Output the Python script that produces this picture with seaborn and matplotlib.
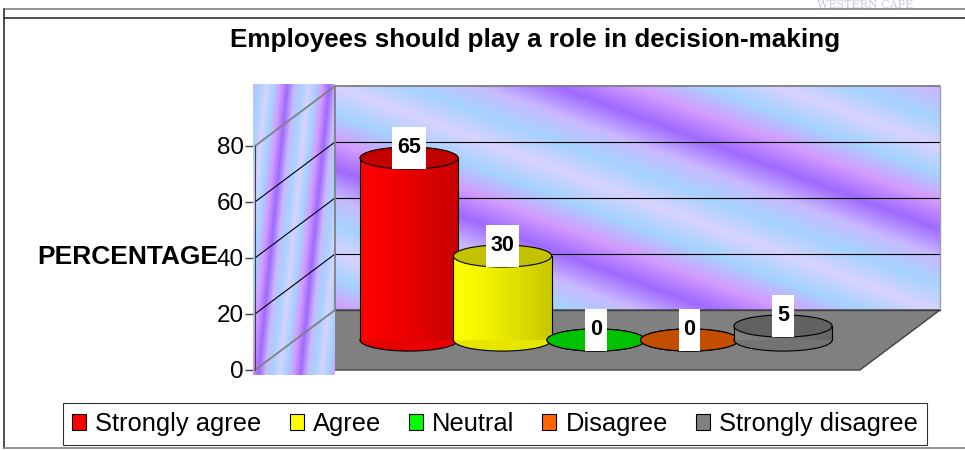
import numpy as np
import matplotlib
matplotlib.use("Agg")
import matplotlib.pyplot as plt
import matplotlib.transforms as mtransforms
from matplotlib.patches import Ellipse, Polygon, Patch
from matplotlib.lines import Line2D
from matplotlib.path import Path
from matplotlib.colors import LinearSegmentedColormap, to_rgb
import seaborn as sns

sns.set_style("white")
plt.rcParams["font.family"] = ["Liberation Sans", "DejaVu Sans"]
plt.rcParams["text.color"] = "black"
plt.rcParams["ytick.color"] = "black"

# ---- data ----
categories = ["Strongly agree", "Agree", "Neutral", "Disagree", "Strongly disagree"]
percentages = [65, 30, 0, 0, 5]
colors = ["#ff0000", "#ffff00", "#00ff00", "#ff6600", "#808080"]
yticks = [0, 20, 40, 60, 80]

title = "Employees should play a role in decision-making"
ylabel = "PERCENTAGE"

# ---- 3D box geometry (data units) ----
XL, XR = -1.22, 5.25      # front edge of the floor
DX, DY = 0.856, 21.4      # depth offset of the back wall
YTOP = 80
BAR_W = 1.05
CAP_H = 7.9               # height of the cylinder cap ellipses

fig = plt.figure(figsize=(9.65, 4.5), dpi=100)
ax = fig.add_axes([0.2622, 0.1667, 0.7140, 0.6467])

sns.barplot(x=categories, y=percentages, hue=categories, order=categories,
            palette=colors, width=BAR_W, saturation=1, errorbar=None,
            linewidth=0, legend=False, ax=ax)
bars = list(ax.patches)

# wall texture
wall_cmap = LinearSegmentedColormap.from_list(
    "wall", ["#a06aff", "#c9b9ff", "#a6d3ff", "#d8d2ff", "#a6d3ff", "#d49cff", "#a06aff"])

yy, xx = np.mgrid[0:223, 0:605]
back = ((yy - 0.37 * xx + 81) / 164.0) % 1
ax.imshow(back, cmap=wall_cmap, vmin=0, vmax=1, aspect="auto", interpolation="bilinear",
          extent=(XL + DX, XR + DX, DY, YTOP + DY), origin="upper", zorder=0.5)

yy, xx = np.mgrid[0:290, 0:82]
side = ((xx + 0.1 * yy + 8) / 42.0) % 1
ax.imshow(side, cmap=wall_cmap, vmin=0, vmax=1, aspect="auto", interpolation="bilinear",
          extent=(XL - 0.02, XL + DX, -1.8, 101.8), origin="upper", zorder=1.5,
          clip_on=False)

# floor
ax.add_patch(Polygon([(XL, 0), (XR, 0), (XR + DX, DY), (XL + DX, DY)], closed=True,
                     facecolor="#808080", edgecolor="#404040", lw=1, zorder=1))

# grid lines on the back wall and the side wall
for v in yticks:
    c = "#808080" if v in (0, YTOP) else "black"
    lw = 1.3 if v in (0, YTOP) else 0.8
    ax.plot([XL, XL + DX], [v, v + DY], color=c, lw=lw, zorder=2)
    if 0 < v < YTOP:
        ax.plot([XL + DX, XR + DX], [v + DY, v + DY], color="black", lw=0.8, zorder=0.8)
ax.plot([XL + DX, XR + DX], [YTOP + DY] * 2, color="#808080", lw=1.3, zorder=0.8)
ax.plot([XL + DX, XL + DX], [DY, YTOP + DY], color="#808080", lw=1.3, zorder=2)
ax.plot([XR + DX, XR + DX], [DY, YTOP + DY], color="#a0a0a0", lw=1.0, zorder=0.8)
ax.plot([XL + DX, XR + DX], [DY, DY], color="#404040", lw=1.0, zorder=1.2)


# cylinders: seaborn bars moved to mid depth, shaded, with elliptical caps
def label_box(x0, y0, width, height, mutation_size):
    px, py = 0.22 * mutation_size, 0.5 * mutation_size
    return Path([(x0 - px, y0 - py), (x0 + width + px, y0 - py),
                 (x0 + width + px, y0 + height + py), (x0 - px, y0 + height + py),
                 (x0 - px, y0 - py)], closed=True)


shift = mtransforms.Affine2D().translate(DX / 2, DY / 2) + ax.transData
for i, (p, c, val) in enumerate(zip(bars, colors, percentages)):
    z = 4 + i
    x0, w, h = p.get_x(), p.get_width(), p.get_height()
    xc = x0 + w / 2
    base = np.array(to_rgb(c))
    dark = base * 0.76
    p.set_transform(shift)
    p.set_zorder(z + 0.1)

    ax.add_patch(Ellipse((xc, 0), w, CAP_H, facecolor=base * 0.9, edgecolor="black",
                         lw=0.8, transform=shift, zorder=z))
    if h > 0:
        t = np.linspace(0, 1, 60) ** 1.3
        grad = base[None, :] * (1 - 0.22 * t[:, None])
        ax.imshow(grad[None, :, :], extent=(x0, x0 + w, 0, h), aspect="auto",
                  interpolation="bilinear", transform=shift, zorder=z + 0.2)
        for xe in (x0, x0 + w):
            ax.plot([xe, xe], [0, h], color="black", lw=0.8, transform=shift, zorder=z + 0.3)
    ax.add_patch(Ellipse((xc, h), w, CAP_H, facecolor=dark, edgecolor="black",
                         lw=0.8, transform=shift, zorder=z + 0.4))
    ax.text(xc, h + 3.6, str(val), transform=shift, ha="center", va="center",
            fontsize=15.5, fontweight="bold", zorder=z + 0.5,
            bbox=dict(boxstyle=label_box, facecolor="white", edgecolor="none"))

# axes
ax.set_xlim(-1.2406, 6.1283)
ax.set_ylim(-1.786, 102.14)
ax.set_xticks([])
ax.set_yticks(yticks)
ax.set_xlabel("")
ax.set_ylabel("")
for s in ("top", "right", "bottom"):
    ax.spines[s].set_visible(False)
ax.spines["left"].set_position(("data", XL))
ax.spines["left"].set_bounds(0, YTOP)
ax.spines["left"].set_color("#404040")
ax.spines["left"].set_zorder(3)
ax.tick_params(axis="y", length=7, width=1, color="#404040", labelcolor="black",
               labelsize=17.5, pad=1, left=True)
ax.patch.set_visible(False)

# texts
fig.text(535 / 965, 1 - 40 / 450, title, ha="center", va="center",
         fontsize=18.7, fontweight="bold")
fig.text(37 / 965, 1 - 257 / 450, ylabel, ha="left", va="center",
         fontsize=19, fontweight="bold")
fig.text(865 / 965, 1 - 8 / 450, "WESTERN CAPE", ha="center", va="baseline",
         fontsize=8, family="DejaVu Serif", color="#c8cbe0")

# frame
fig.add_artist(Line2D([4 / 965, 1], [1 - 9 / 450] * 2, color="#808080", lw=1.2))
fig.add_artist(Line2D([4 / 965, 1], [1 - 18 / 450] * 2, color="#303030", lw=1.2))
fig.add_artist(Line2D([4 / 965] * 2, [1 - 9 / 450, 2 / 450], color="#303030", lw=1.2))
fig.add_artist(Line2D([4 / 965, 1], [2 / 450] * 2, color="#808080", lw=1.2))

# legend
handles = [Patch(facecolor=c, edgecolor="black", lw=0.8, label=l)
           for c, l in zip(colors, categories)]
leg = fig.legend(handles=handles, loc="center", bbox_to_anchor=(495 / 965, 1 - 424 / 450),
                 ncol=5, fontsize=18.4, frameon=True, fancybox=False, edgecolor="black",
                 handlelength=0.55, handleheight=0.55, handletextpad=0.35,
                 columnspacing=1.1, borderpad=0.35, borderaxespad=0)
leg.get_frame().set_linewidth(0.8)

fig.savefig("out.png", dpi=100)
